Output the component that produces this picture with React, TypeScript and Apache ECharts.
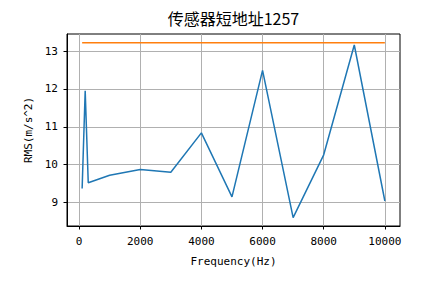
import React, { useEffect, useRef } from "react";
import * as echarts from "echarts";

const titleText = "传感器短地址1257";
const xName = "Frequency(Hz)";
const yName = "RMS(m/s^2)";
const frequencies = [100, 200, 300, 1000, 2000, 3000, 4000, 5000, 6000, 7000, 8000, 9000, 10000];
const rmsValues = [9.37, 11.95, 9.52, 9.72, 9.87, 9.8, 10.84, 9.15, 12.49, 8.6, 10.26, 13.16, 9.04];
const thresholdX = [100, 10000];
const thresholdValue = 13.22;
const xTicks = [0, 2000, 4000, 6000, 8000, 10000];
const yTicks = [9, 10, 11, 12, 13];

export default function App() {
  const ref = useRef<HTMLDivElement>(null);
  useEffect(() => {
    if (!ref.current) return;
    const chart = echarts.init(ref.current, null, { renderer: "svg" });
    const mono = "DejaVu Sans Mono";
    chart.setOption({
      animation: false,
      backgroundColor: "#fff",
      title: {
        text: titleText,
        left: 233.5,
        top: 10,
        padding: 0,
        textAlign: "center",
        textStyle: { fontFamily: "Noto Sans CJK SC", fontSize: 16, fontWeight: "normal", color: "#000" },
      },
      grid: { left: 67, right: 44, top: 34, bottom: 57, show: true, borderColor: "#000", borderWidth: 1, backgroundColor: "transparent" },
      xAxis: {
        type: "value",
        min: -395,
        max: 10495,
        name: xName,
        nameLocation: "middle",
        nameGap: 30,
        nameTextStyle: { fontFamily: mono, fontSize: 11, color: "#000" },
        axisLine: { show: true, onZero: false, lineStyle: { color: "#000", width: 1 } },
        axisTick: { show: true, length: 3.5, customValues: xTicks, lineStyle: { color: "#000" } },
        axisLabel: { customValues: xTicks, formatter: (v: number) => String(v), fontFamily: mono, fontSize: 11, color: "#000", margin: 9.5 },
        splitLine: { show: true, lineStyle: { color: "#b0b0b0", width: 1 } },
      },
      yAxis: {
        type: "value",
        min: 8.38,
        max: 13.45,
        name: yName,
        nameLocation: "middle",
        nameGap: 31,
        nameTextStyle: { fontFamily: mono, fontSize: 11, color: "#000" },
        axisLine: { show: true, onZero: false, lineStyle: { color: "#000", width: 1 } },
        axisTick: { show: true, length: 3.5, customValues: yTicks, lineStyle: { color: "#000" } },
        axisLabel: { customValues: yTicks, formatter: (v: number) => String(v), fontFamily: mono, fontSize: 11, color: "#000", margin: 9 },
        splitLine: { show: true, lineStyle: { color: "#b0b0b0", width: 1 } },
      },
      series: [
        {
          type: "line",
          data: frequencies.map((f, i) => [f, rmsValues[i]]),
          showSymbol: false,
          lineStyle: { color: "#1f77b4", width: 1.5 },
          itemStyle: { color: "#1f77b4" },
        },
        {
          type: "line",
          data: thresholdX.map((f) => [f, thresholdValue]),
          showSymbol: false,
          lineStyle: { color: "#ff7f0e", width: 1.5 },
          itemStyle: { color: "#ff7f0e" },
        },
      ],
    });
    return () => chart.dispose();
  }, []);
  return <div ref={ref} style={{ width: 444, height: 283, position: "fixed", left: 0, top: 0 }} />;
}
